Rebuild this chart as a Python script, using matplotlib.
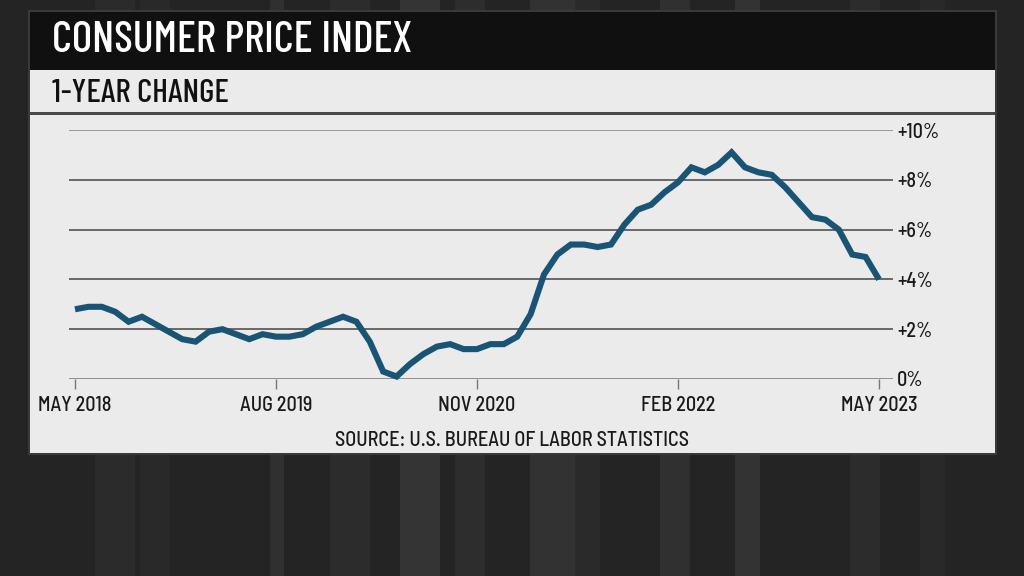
import numpy as np
import matplotlib.pyplot as plt
from matplotlib.patches import Rectangle

plt.rcParams["font.family"] = ["Barlow Condensed", "DejaVu Sans"]
LABEL_FONT = ["Barlow Semi Condensed", "DejaVu Sans"]

# CPI, 12-month change (%), monthly May 2018 .. May 2023
cpi_2018 = [2.8, 2.9, 2.9, 2.7, 2.3, 2.5, 2.2, 1.9]
cpi_2019 = [1.6, 1.5, 1.9, 2.0, 1.8, 1.6, 1.8, 1.7, 1.7, 1.8, 2.1, 2.3]
cpi_2020 = [2.5, 2.3, 1.5, 0.3, 0.1, 0.6, 1.0, 1.3, 1.4, 1.2, 1.2, 1.4]
cpi_2021 = [1.4, 1.7, 2.6, 4.2, 5.0, 5.4, 5.4, 5.3, 5.4, 6.2, 6.8, 7.0]
cpi_2022 = [7.5, 7.9, 8.5, 8.3, 8.6, 9.1, 8.5, 8.3, 8.2, 7.7, 7.1, 6.5]
cpi_2023 = [6.4, 6.0, 5.0, 4.9, 4.0]
cpi = cpi_2018 + cpi_2019 + cpi_2020 + cpi_2021 + cpi_2022 + cpi_2023
months = np.arange(len(cpi))

tick_months = [0, 15, 30, 45, 60]
tick_labels = ["MAY 2018", "AUG 2019", "NOV 2020", "FEB 2022", "MAY 2023"]
y_ticks = [0, 2, 4, 6, 8, 10]
y_labels = ["0%", "+2%", "+4%", "+6%", "+8%", "+10%"]

W, H = 1024, 576
fig = plt.figure(figsize=(W / 100, H / 100), dpi=100)
fig.patch.set_facecolor("#242424")

def px_rect(x0, y0, x1, y1, **kw):
    # rectangle given in pixel coords (origin top-left)
    fig.patches.append(Rectangle((x0 / W, 1 - y1 / H), (x1 - x0) / W, (y1 - y0) / H,
                                 transform=fig.transFigure, **kw))

# faint vertical bands of the studio backdrop
bands = [(95, 40, "#2b2b2b"), (140, 30, "#292929"), (270, 14, "#303030"),
         (330, 40, "#2c2c2c"), (400, 40, "#343434"), (455, 30, "#2d2d2d"),
         (530, 45, "#323232"), (575, 25, "#2a2a2a"), (660, 30, "#303030"),
         (735, 25, "#333333"), (850, 30, "#2c2c2c"), (920, 25, "#292929")]
for bx, bw, bc in bands:
    px_rect(bx, 0, bx + bw, H, facecolor=bc, edgecolor="none", zorder=0)

# panel
px_rect(28, 10, 997, 455, facecolor="#3a3a3a", edgecolor="none", zorder=1)
px_rect(30, 12, 995, 453, facecolor="#ebebeb", edgecolor="none", zorder=1)
px_rect(30, 12, 995, 70, facecolor="#101010", edgecolor="none", zorder=2)
px_rect(30, 112, 995, 115, facecolor="#4a4a4a", edgecolor="none", zorder=2)

fig.text(52 / W, 1 - 41 / H, "CONSUMER PRICE INDEX", color="white", fontsize=31.5,
         fontweight="medium", ha="left", va="center", zorder=3)
fig.text(52 / W, 1 - 93 / H, "1-YEAR CHANGE", color="#111111", fontsize=24,
         fontweight="medium", ha="left", va="center", zorder=3)
fig.text(512 / W, 1 - 440 / H, "SOURCE: U.S. BUREAU OF LABOR STATISTICS",
         color="#1a1a1a", fontsize=14.5, fontweight="medium", family=LABEL_FONT,
         ha="center", va="center", zorder=3)

# chart axes: x 69..893 px, y 0% at 379 px, 10% at 130 px
ax = fig.add_axes([69 / W, 1 - 379 / H, 824 / W, 249 / H])
ax.set_facecolor("none")
ax.set_zorder(4)
ax.plot(months, cpi, color="#1a5475", linewidth=4.4, solid_joinstyle="miter",
        solid_capstyle="butt", clip_on=False, zorder=3)

ax.set_xlim(-6 / 13.4, 60 + 14 / 13.4)
ax.set_ylim(0, 10)
ax.set_yticks(y_ticks)
ax.set_yticklabels(y_labels)
ax.yaxis.tick_right()
ax.tick_params(axis="y", length=0, pad=3, labelsize=14.5, labelcolor="#1a1a1a")
ax.set_xticks(tick_months)
ax.set_xticklabels(tick_labels)
for lab in ax.get_xticklabels() + ax.get_yticklabels():
    lab.set_fontweight("medium")
    lab.set_family(LABEL_FONT)
ax.tick_params(axis="x", length=7, width=1, color="#777777", pad=5,
               labelsize=14.5, labelcolor="#1a1a1a")
ax.grid(axis="y", color="#686868", linewidth=1.4)
grid = ax.yaxis.get_gridlines()
grid[0].set_color("#909090")
grid[-1].set_color("#9a9a9a")
ax.set_axisbelow(True)
for s in ax.spines.values():
    s.set_visible(False)

fig.savefig("out.png", dpi=100, facecolor=fig.get_facecolor())
